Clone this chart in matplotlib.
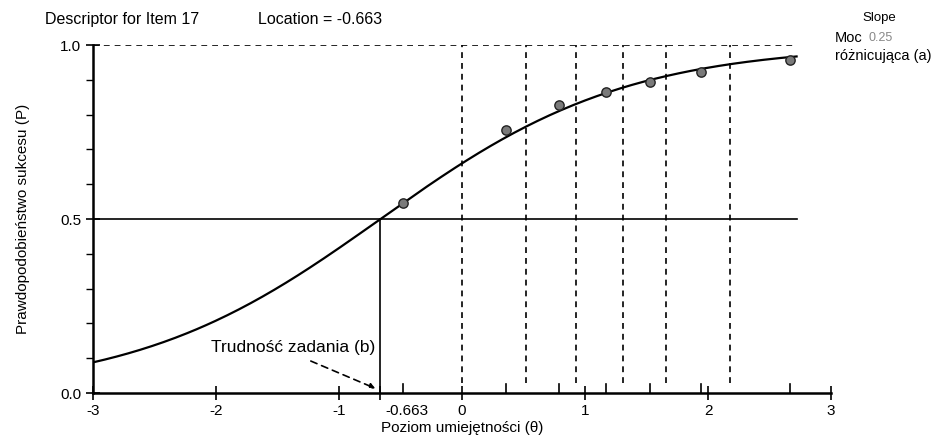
import numpy as np
import matplotlib
matplotlib.use("Agg")
import matplotlib.pyplot as plt
import matplotlib.transforms as mtransforms

plt.rcParams["font.family"] = ["Liberation Sans", "DejaVu Sans"]

# item parameters shown on the chart
location = -0.663
slope = 0.25

# observed class means (theta, proportion correct)
obs_theta = [-0.48, 0.36, 0.79, 1.17, 1.53, 1.94, 2.67]
obs_p = [0.546, 0.756, 0.828, 0.865, 0.894, 0.922, 0.957]

# class interval boundaries (dashed verticals)
bounds = [0.0, 0.52, 0.93, 1.31, 1.66, 2.18]

x_ticks = [-3, -2, -1, location, 0, 1, 2, 3]
x_ticklabels = ["-3", "-2", "-1", "-0.663", "0", "1", "2", "3"]

fig = plt.figure(figsize=(9.48, 4.38), dpi=100)
ax = fig.add_axes([0.0981, 0.1027, 0.7785, 0.7945])

x_end = 2.72
theta = np.linspace(-3, x_end, 300)
a = slope * 4
p = 1 / (1 + np.exp(-a * (theta - location)))
ax.plot(theta, p, color="black", lw=1.6, zorder=3)

ax.scatter(obs_theta, obs_p, s=45, color="#7a7a7a", edgecolor="#222222",
           linewidth=1.0, zorder=4)

# reference lines
dash = (0, (3.5, 3))
ax.plot([-3, x_end], [1.0, 1.0], color="black", lw=1.2, ls=dash)
ax.plot([-3, x_end], [0.5, 0.5], color="black", lw=1.2)
ax.plot([location, location], [0, 0.5], color="black", lw=1.2)
for b in bounds:
    ax.plot([b, b], [0.03, 1.0], color="black", lw=1.2, ls=dash)

# small ticks under observed points
for t in obs_theta:
    ax.plot([t, t], [0, 0.025], color="black", lw=1.2)

ax.set_xlim(-3, 3)
ax.set_ylim(0, 1)
for s in ["top", "right"]:
    ax.spines[s].set_visible(False)
ax.spines["left"].set_linewidth(1.8)
ax.spines["bottom"].set_linewidth(1.8)

ax.set_xticks(x_ticks)
ax.set_xticklabels(x_ticklabels, fontsize=11)
ax.set_yticks([0, 0.5, 1.0])
ax.set_yticklabels(["0.0", "0.5", "1.0"], fontsize=11)
ax.set_yticks(np.arange(0.1, 1.0, 0.1), minor=True)
ax.tick_params(axis="both", which="major", direction="inout", length=10, width=1.2)
ax.tick_params(axis="y", which="minor", direction="out", length=5, width=1.0)
ax.tick_params(axis="x", which="major", pad=3)

# the -0.663 label sits to the right of its tick
shift = mtransforms.ScaledTranslation(0.26, 0, fig.dpi_scale_trans)
lbl = ax.get_xticklabels()[3]
lbl.set_transform(lbl.get_transform() + shift)

ax.set_xlabel("Poziom umiejętności (θ)", fontsize=11, labelpad=2)
ax.set_ylabel("Prawdopodobieństwo sukcesu (P)", fontsize=11, labelpad=22)

ax.annotate("", xy=(location - 0.02, 0.01), xytext=(-1.25, 0.095),
            arrowprops=dict(arrowstyle="-|>", ls=(0, (4, 3)), color="black",
                            lw=1.2, mutation_scale=8))
ax.text(-2.04, 0.13, "Trudność zadania (b)", fontsize=12.5, va="center", ha="left")

fig.text(0.047, 0.955, "Descriptor for Item 17", fontsize=11.5, va="center")
fig.text(0.272, 0.955, "Location = -0.663", fontsize=11.5, va="center")
fig.text(0.928, 0.958, "Slope", fontsize=9.5, va="center", ha="center")
fig.text(0.881, 0.913, "Moc", fontsize=10.5, va="center")
fig.text(0.916, 0.913, "0.25", fontsize=9, va="center", color="#888888")
fig.text(0.881, 0.873, "różnicująca (a)", fontsize=10.5, va="center")

fig.savefig("out.png", dpi=100)
